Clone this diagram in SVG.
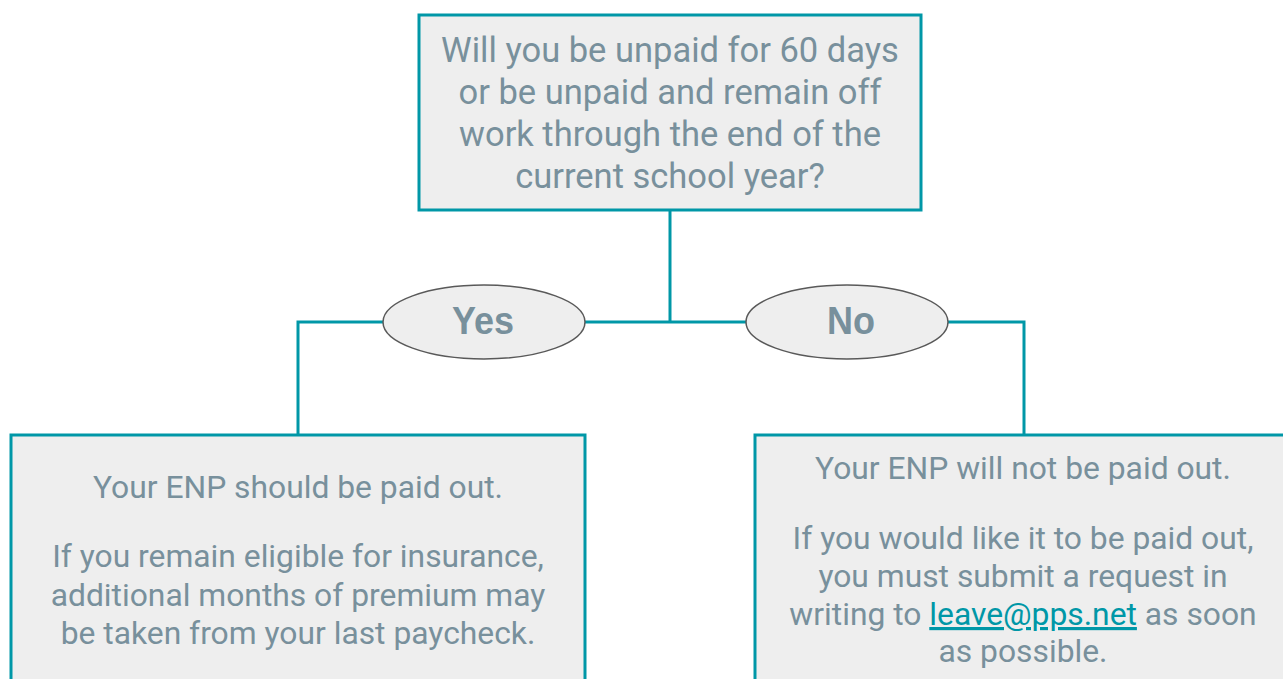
<svg xmlns="http://www.w3.org/2000/svg" width="1283" height="679" viewBox="0 0 1283 679">
<style>
.box{fill:#eeeeee;stroke:#0097a7;stroke-width:3}
.conn{fill:none;stroke:#0097a7;stroke-width:3}
.oval{fill:#eeeeee;stroke:#595959;stroke-width:1.5}
.t{font-family:Roboto,"Liberation Sans",sans-serif;fill:#78909c;text-anchor:middle}
.q{font-size:34.5px}
.b{font-size:31.8px}
.lbl{font-family:"Liberation Sans",Arial,sans-serif;font-weight:bold;font-size:38px;fill:#78909c;text-anchor:middle}
.link{fill:#0097a7;text-decoration:underline}
</style>
<g id="connectors">
<polyline class="conn" points="670,210 670,322"/>
<polyline class="conn" points="298,434 298,322 1024,322 1024,434"/>
</g>
<g id="question">
<rect class="box" x="419" y="15" width="502" height="195"/>
<text class="t q" x="670" y="62">Will you be unpaid for 60 days</text>
<text class="t q" x="670" y="104">or be unpaid and remain off</text>
<text class="t q" x="670" y="146">work through the end of the</text>
<text class="t q" x="670" y="188">current school year?</text>
</g>
<g id="yes">
<ellipse class="oval" cx="484" cy="322" rx="101" ry="37"/>
<text class="lbl" x="483" y="334" textLength="62" lengthAdjust="spacingAndGlyphs">Yes</text>
</g>
<g id="no">
<ellipse class="oval" cx="847" cy="322" rx="101" ry="37"/>
<text class="lbl" x="851" y="334" textLength="48" lengthAdjust="spacingAndGlyphs">No</text>
</g>
<g id="yes-result">
<rect class="box" x="11" y="435" width="574" height="260"/>
<text class="t b" x="298" y="498">Your ENP should be paid out.</text>
<text class="t b" x="298" y="567">If you remain eligible for insurance,</text>
<text class="t b" x="298" y="606">additional months of premium may</text>
<text class="t b" x="298" y="644">be taken from your last paycheck.</text>
</g>
<g id="no-result">
<rect class="box" x="755" y="435" width="540" height="260"/>
<text class="t b" x="1023" y="479">Your ENP will not be paid out.</text>
<text class="t b" x="1023" y="549">If you would like it to be paid out,</text>
<text class="t b" x="1023" y="587">you must submit a request in</text>
<text class="t b" x="1023" y="625">writing to <tspan class="link">leave@pps.net</tspan> as soon</text>
<text class="t b" x="1023" y="662">as possible.</text>
</g>
</svg>
